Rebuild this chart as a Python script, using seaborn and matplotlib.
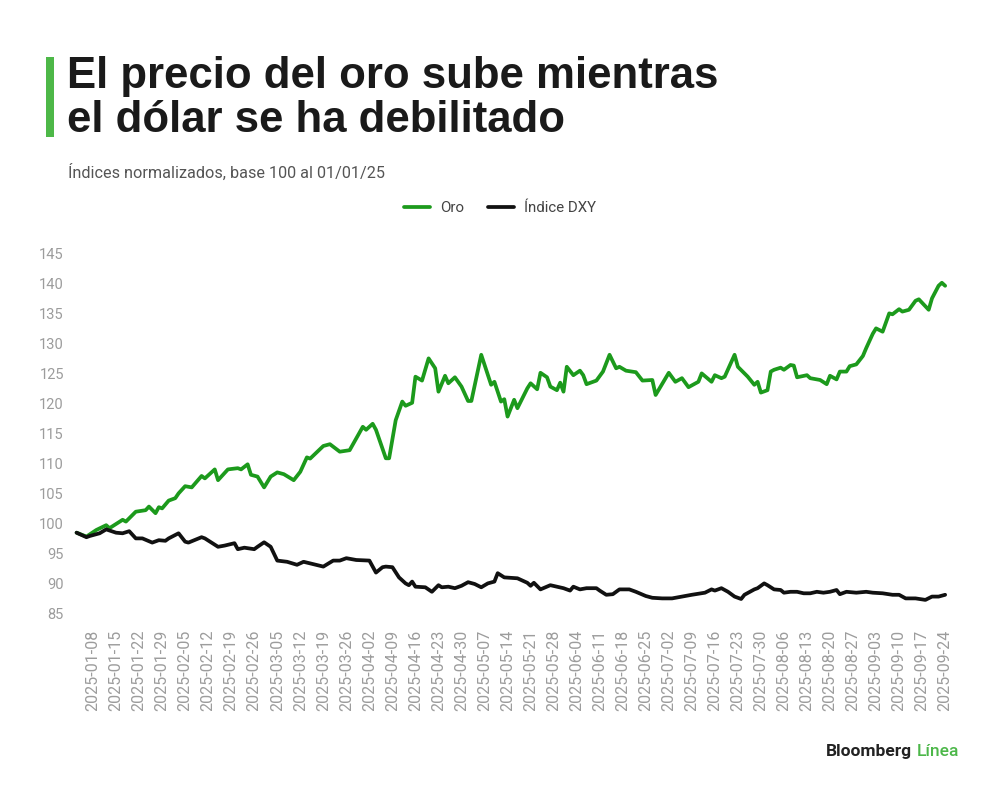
import pandas as pd
import matplotlib.pyplot as plt
import seaborn as sns
from matplotlib.patches import Rectangle

# Valores (días contados desde el 01/01/2025)
dias_oro = [2, 5, 8, 11, 12, 16, 17, 20, 23, 24,
            26, 27, 28, 30, 32, 33, 35, 37, 40, 41,
            44, 45, 48, 51, 52, 54, 55, 57, 59, 61,
            63, 65, 68, 70, 72, 73, 77, 79, 82, 85,
            89, 90, 92, 93, 96, 97, 99, 101, 102, 104,
            105, 107, 109, 111, 112, 114, 115, 117, 119, 121,
            122, 125, 128, 129, 131, 132, 133, 135, 136, 139,
            140, 142, 143, 145, 146, 148, 149, 150, 151, 153,
            155, 156, 157, 160, 162, 164, 166, 167, 169, 172,
            174, 177, 178, 182, 184, 186, 188, 191, 192, 195,
            196, 198, 199, 202, 203, 206, 208, 209, 210, 212,
            213, 214, 216, 217, 219, 220, 221, 224, 225, 228,
            230, 231, 233, 234, 236, 237, 239, 241, 242, 244,
            245, 247, 249, 250, 252, 253, 255, 257, 258, 261,
            262, 264, 265, 266]
oro = [98.55, 97.9, 99.0, 99.8, 99.3, 100.7, 100.4, 102.05, 102.3, 102.9,
       101.8, 102.8, 102.6, 103.9, 104.3, 105.1, 106.3, 106.1, 108.0, 107.6,
       109.1, 107.3, 109.1, 109.3, 109.1, 109.95, 108.2, 107.9, 106.1, 107.9,
       108.6, 108.3, 107.3, 108.7, 111.1, 110.9, 113.0, 113.3, 112.05, 112.3,
       116.2, 115.7, 116.7, 115.7, 110.95, 110.95, 117.3, 120.4, 119.7, 120.2,
       124.55, 123.9, 127.6, 125.95, 122.05, 124.7, 123.45, 124.45, 122.9, 120.5,
       120.5, 128.2, 123.2, 123.7, 120.4, 120.8, 117.9, 120.7, 119.3, 122.6,
       123.45, 122.45, 125.2, 124.45, 122.9, 122.3, 123.55, 122.05, 126.2, 124.8,
       125.55, 124.8, 123.3, 123.9, 125.4, 128.2, 125.95, 126.2, 125.55, 125.3,
       123.9, 124.0, 121.5, 125.2, 123.7, 124.3, 122.8, 123.7, 125.1, 123.7,
       124.8, 124.3, 124.55, 128.2, 126.2, 124.55, 123.2, 123.7, 121.9, 122.3,
       125.4, 125.7, 126.05, 125.7, 126.5, 126.4, 124.45, 124.8, 124.3, 124.0,
       123.3, 124.7, 124.1, 125.4, 125.4, 126.3, 126.6, 128.0, 129.3, 131.7,
       132.6, 132.05, 135.1, 134.95, 135.8, 135.4, 135.7, 137.2, 137.45, 135.7,
       137.6, 139.7, 140.2, 139.7]

dias_dxy = [2, 5, 6, 9, 11, 14, 16, 18, 20, 22,
            25, 27, 29, 30, 33, 35, 36, 40, 41, 45,
            47, 50, 51, 53, 56, 57, 59, 61, 63, 66,
            69, 71, 74, 77, 80, 82, 84, 87, 91, 93,
            95, 96, 98, 100, 102, 103, 104, 105, 108, 110,
            112, 113, 115, 117, 119, 121, 123, 125, 127, 129,
            130, 132, 136, 139, 140, 141, 143, 146, 148, 150,
            152, 153, 155, 157, 160, 161, 163, 165, 167, 170,
            172, 175, 177, 180, 183, 186, 189, 193, 195, 196,
            198, 200, 202, 204, 205, 208, 209, 211, 212, 214,
            216, 217, 219, 221, 223, 225, 227, 229, 231, 233,
            234, 236, 239, 242, 244, 247, 250, 252, 254, 257,
            260, 262, 264, 266]
dxy = [98.55, 97.8, 98.0, 98.45, 99.1, 98.55, 98.45, 98.8, 97.6, 97.6,
       96.9, 97.3, 97.2, 97.6, 98.45, 97.05, 96.9, 97.8, 97.6, 96.2,
       96.4, 96.8, 95.8, 96.05, 95.8, 96.2, 96.95, 96.2, 93.9, 93.7,
       93.2, 93.7, 93.3, 92.9, 93.9, 93.9, 94.3, 94.0, 93.9, 91.9,
       92.8, 92.9, 92.8, 91.1, 90.1, 89.8, 90.4, 89.55, 89.45, 88.7,
       89.8, 89.45, 89.55, 89.3, 89.7, 90.3, 90.0, 89.45, 90.1, 90.4,
       91.8, 91.1, 90.95, 90.2, 89.7, 90.2, 89.1, 89.8, 89.55, 89.3,
       88.9, 89.55, 89.1, 89.3, 89.3, 88.9, 88.2, 88.3, 89.1, 89.1,
       88.7, 88.0, 87.7, 87.6, 87.6, 87.9, 88.2, 88.55, 89.1, 88.9,
       89.3, 88.7, 87.9, 87.5, 88.2, 89.1, 89.3, 90.1, 89.8, 89.1,
       89.0, 88.55, 88.7, 88.7, 88.45, 88.45, 88.7, 88.55, 88.7, 89.0,
       88.3, 88.7, 88.55, 88.7, 88.55, 88.45, 88.2, 88.2, 87.6, 87.6,
       87.35, 87.9, 87.9, 88.2]

series = ['Oro', 'Índice DXY']
ticks_x = pd.date_range('2025-01-08', '2025-09-24', freq='7D')
ticks_y = list(range(85, 150, 5))

VERDE = '#1c9a1c'
NEGRO = '#111111'
GRIS = '#9c9c9c'

inicio = pd.Timestamp('2025-01-01')
df = pd.concat([
    pd.DataFrame({'fecha': inicio + pd.to_timedelta(dias_oro, unit='D'),
                  'valor': oro, 'serie': series[0]}),
    pd.DataFrame({'fecha': inicio + pd.to_timedelta(dias_dxy, unit='D'),
                  'valor': dxy, 'serie': series[1]}),
], ignore_index=True)

sns.set_theme(style='white')
plt.rcParams['font.family'] = ['Roboto', 'DejaVu Sans']

fig = plt.figure(figsize=(10, 7.9), dpi=100)
ax = fig.add_axes([0.0667, 0.2152, 0.8916, 0.4709])

sns.lineplot(data=df, x='fecha', y='valor', hue='serie', hue_order=series,
             palette={series[0]: VERDE, series[1]: NEGRO},
             estimator=None, sort=False, linewidth=2.7, ax=ax)

ax.set_xlim(pd.Timestamp('2024-12-31'), pd.Timestamp('2025-09-28'))
ax.set_ylim(84, 146)
ax.set_xticks(ticks_x)
ax.set_xticklabels([d.strftime('%Y-%m-%d') for d in ticks_x], rotation=90)
ax.set_yticks(ticks_y)
ax.set_yticklabels([str(t) for t in ticks_y])
ax.tick_params(axis='x', length=0, pad=7, labelsize=11.5, labelcolor=GRIS)
ax.tick_params(axis='y', length=0, pad=2, labelsize=10.5, labelcolor=GRIS)
ax.set_xlabel('')
ax.set_ylabel('')
sns.despine(ax=ax, left=True, bottom=True)

# Leyenda arriba, centrada
handles, labels = ax.get_legend_handles_labels()
ax.get_legend().remove()
fig.legend(handles, labels, loc='center', bbox_to_anchor=(0.5, 1 - 208 / 790),
           ncol=2, frameon=False, fontsize=10.8, labelcolor='#444444',
           handlelength=1.7, handletextpad=0.7, columnspacing=1.6)

# Titulo, subtitulo y barra verde
fig.add_artist(Rectangle((0.046, 1 - 137 / 790), 0.008, 80 / 790,
                         transform=fig.transFigure, color='#4db848', lw=0))
fig.text(0.067, 1 - 88 / 790, 'El precio del oro sube mientras', fontsize=31.5,
         fontweight='bold', color='#1a1a1a', va='baseline', ha='left',
         family=['Liberation Sans', 'DejaVu Sans'])
fig.text(0.067, 1 - 132 / 790, 'el dólar se ha debilitado', fontsize=31.5,
         fontweight='bold', color='#1a1a1a', va='baseline', ha='left',
         family=['Liberation Sans', 'DejaVu Sans'])
fig.text(0.068, 1 - 172 / 790, 'Índices normalizados, base 100 al 01/01/25',
         fontsize=11.7, color='#555555', va='center', ha='left')

# Firma
fig.text(0.912, 1 - 756 / 790, 'Bloomberg', fontsize=12.5, fontweight='bold',
         color='#222222', ha='right', va='baseline')
fig.text(0.917, 1 - 756 / 790, 'Línea', fontsize=12.5, fontweight='medium',
         color='#4cb749', ha='left', va='baseline')

fig.savefig('out.png', dpi=100)
